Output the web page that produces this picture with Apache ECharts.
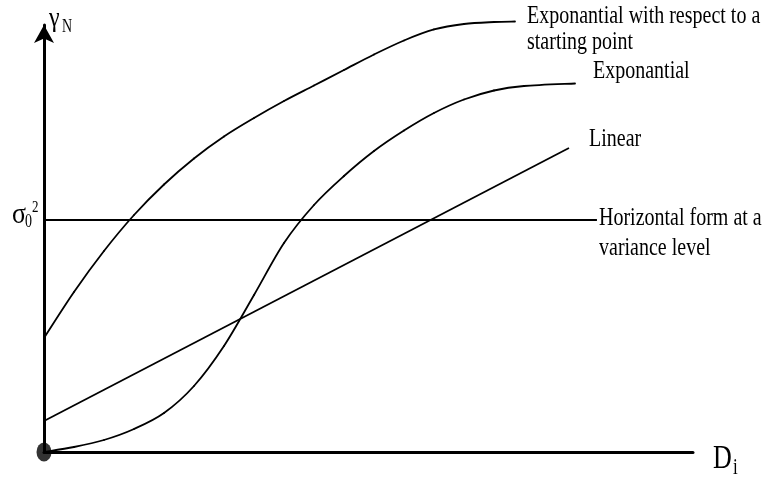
<!DOCTYPE html>
<html>
<head>
<meta charset="utf-8">
<script src="https://cdn.jsdelivr.net/npm/echarts@6/dist/echarts.min.js"></script>
<style>html,body{margin:0;padding:0;background:#fff;}#c{width:768px;height:477px;}</style>
</head>
<body>
<div id="c"></div>
<script>
// Data (abstract units: distance 0..100, semivariance 0..100)
const expStartX = [0, 4.62, 9.24, 13.87, 18.49, 23.11, 27.73, 32.36, 36.98, 41.6, 46.22, 50.85, 55.47, 60.09, 64.71, 69.34, 72.57];
const expStartY = [26.7, 37.47, 47.07, 55.5, 62.65, 68.74, 73.89, 78.22, 82.2, 85.83, 89.46, 93.09, 96.37, 98.95, 100.23, 100.7, 100.82];
const expX = [0, 4.62, 9.24, 13.87, 18.49, 23.11, 27.73, 32.36, 36.98, 41.6, 46.22, 50.85, 55.47, 60.09, 64.71, 69.34, 73.96, 81.82];
const expY = [0, 1.17, 2.81, 5.39, 9.13, 15.46, 24.82, 36.77, 48.95, 57.85, 64.64, 70.49, 75.29, 79.39, 82.55, 84.66, 85.71, 86.3];
const linX = [0, 80.89];
const linY = [7.26, 71.19];
const horX = [0, 85.2];
const horY = [54.33, 54.33];
const originPt = [0, 0];

const labels = {
  expStart: ['Exponantial with respect to a', 'starting point'],
  exp: 'Exponantial',
  lin: 'Linear',
  hor: ['Horizontal form at a', 'variance level']
};

function pairs(xs, ys) { return xs.map((x, i) => [x, ys[i]]); }

// Smooth curve through data points (Catmull-Rom as Bezier), positions via the axes (api.coord)
function splineSeries(xs, ys, width) {
  const data = pairs(xs, ys);
  return {
    type: 'custom', data: data, encode: {x: 0, y: 1}, clip: false, silent: true,
    renderItem: function (params, api) {
      if (params.dataIndex !== 0) return null;
      const pts = data.map(d => api.coord(d));
      const n = pts.length;
      const children = [];
      for (let i = 0; i < n - 1; i++) {
        const p0 = pts[Math.max(i - 1, 0)], p1 = pts[i], p2 = pts[i + 1], p3 = pts[Math.min(i + 2, n - 1)];
        children.push({
          type: 'bezierCurve',
          shape: {
            x1: p1[0], y1: p1[1], x2: p2[0], y2: p2[1],
            cpx1: p1[0] + (p2[0] - p0[0]) / 6, cpy1: p1[1] + (p2[1] - p0[1]) / 6,
            cpx2: p2[0] - (p3[0] - p1[0]) / 6, cpy2: p2[1] - (p3[1] - p1[1]) / 6
          },
          style: {stroke: '#000', lineWidth: width, fill: null, lineCap: 'round'}
        });
      }
      return {type: 'group', children: children};
    }
  };
}

const chart = echarts.init(document.getElementById('c'), null, {renderer: 'canvas'});
const FONT = '"Liberation Serif", "Times New Roman", serif';
const SY = 1.3;
function txt(text, x, y, size, sy) {
  return {
    type: 'text', x: x, y: y, scaleY: sy || SY, silent: true,
    style: {text: text, x: 0, y: 0, fill: '#000', font: size + 'px ' + FONT, align: 'left', verticalAlign: 'middle'}
  };
}
const lineStyle = {color: '#000', width: 1.8};
chart.setOption({
  animation: false,
  grid: {left: 44, right: 75, top: 25, bottom: 25},
  xAxis: {
    type: 'value', min: 0, max: 100,
    axisLine: {show: true, onZero: false, lineStyle: {color: '#000', width: 3}},
    axisTick: {show: false}, axisLabel: {show: false}, splitLine: {show: false}
  },
  yAxis: {
    type: 'value', min: 0, max: 100,
    axisLine: {show: true, onZero: false, symbol: ['none', 'arrow'], symbolSize: [15, 18], lineStyle: {color: '#000', width: 3}},
    axisTick: {show: false}, axisLabel: {show: false}, splitLine: {show: false}
  },
  series: [
    splineSeries(expStartX, expStartY, 1.8),
    splineSeries(expX, expY, 1.8),
    {type: 'line', data: pairs(linX, linY), showSymbol: false, clip: false, lineStyle: lineStyle},
    {type: 'line', data: pairs(horX, horY), showSymbol: false, clip: false, lineStyle: {color: '#000', width: 2}},
    {type: 'scatter', data: [originPt], symbol: 'circle', symbolSize: [15, 19], clip: false, itemStyle: {color: '#000'}, z: 5}
  ],
  graphic: [
    txt(labels.expStart[0], 527, 16.4, 20),
    txt(labels.expStart[1], 527, 42.4, 20),
    txt(labels.exp, 593, 71.4, 20),
    txt(labels.lin, 589, 139.4, 20),
    txt(labels.hor[0], 599, 218.4, 20),
    txt(labels.hor[1], 599, 248.4, 20),
    txt('γ', 49, 19, 24, 1.15),
    txt('N', 62, 27.4, 14),
    txt('σ', 12, 215, 26, 1.15),
    txt('0', 25, 222.4, 14),
    txt('2', 32, 208, 13),
    txt('D', 713, 458.8, 26),
    txt('i', 733, 467.7, 17)
  ]
});
</script>
</body>
</html>
